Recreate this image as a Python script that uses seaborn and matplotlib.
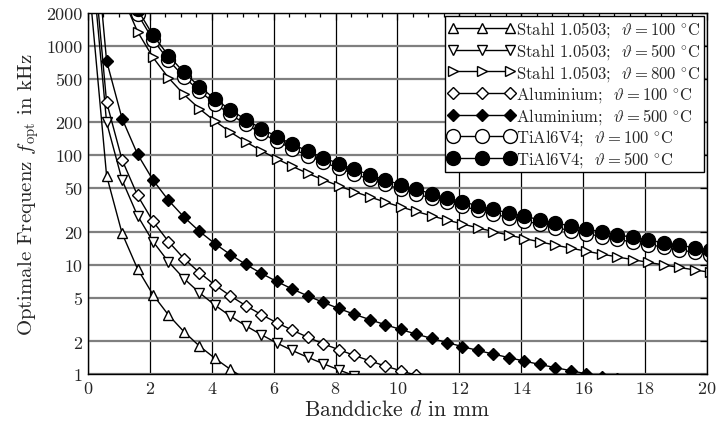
import matplotlib
matplotlib.use("Agg")
import matplotlib.pyplot as plt
import seaborn as sns
from matplotlib.ticker import FixedLocator, FixedFormatter, MultipleLocator, NullLocator

# Banddicke d in mm (marker positions)
D_MM = [0.1, 0.6, 1.1, 1.6, 2.1, 2.6, 3.1, 3.6, 4.1, 4.6,
        5.1, 5.6, 6.1, 6.6, 7.1, 7.6, 8.1, 8.6, 9.1, 9.6,
        10.1, 10.6, 11.1, 11.6, 12.1, 12.6, 13.1, 13.6, 14.1, 14.6,
        15.1, 15.6, 16.1, 16.6, 17.1, 17.6, 18.1, 18.6, 19.1, 19.6, 20.1]

# optimale Frequenz in kHz
STAHL_100 = [2350, 65.3, 19.4, 9.18, 5.33, 3.48, 2.45, 1.81, 1.40, 1.11, 0.90]
STAHL_500 = [7200, 200, 59.5, 28.1, 16.3, 10.65, 7.49, 5.56, 4.28, 3.40,
             2.77, 2.30, 1.93, 1.65, 1.43, 1.25, 1.10, 0.97, 0.87]
STAHL_800 = [345000, 9583, 2851, 1348, 782, 510, 359, 266, 205, 163,
             132.6, 110.0, 92.7, 79.2, 68.4, 59.7, 52.6, 46.6, 41.7, 37.4,
             33.8, 30.7, 28.0, 25.6, 23.6, 21.7, 20.1, 18.65, 17.35, 16.19,
             15.13, 14.18, 13.31, 12.52, 11.80, 11.14, 10.53, 9.97, 9.46, 8.98, 8.54]
ALU_100 = [11000, 306, 90.9, 43.0, 24.9, 16.3, 11.4, 8.49, 6.54, 5.20,
           4.23, 3.51, 2.96, 2.53, 2.18, 1.90, 1.68, 1.49, 1.33, 1.19,
           1.08, 0.98, 0.89]
ALU_500 = [26200, 728, 216.5, 102.3, 59.4, 38.8, 27.3, 20.2, 15.6, 12.4,
           10.07, 8.35, 7.04, 6.01, 5.20, 4.54, 3.99, 3.54, 3.16, 2.84,
           2.57, 2.33, 2.13, 1.95, 1.79, 1.65, 1.53, 1.42, 1.32, 1.23,
           1.15, 1.08, 1.01, 0.95, 0.90]
TIAL_100 = [500000, 13889, 4132, 1953, 1134, 740, 520, 386, 297, 236,
            192.2, 159.4, 134.4, 114.8, 99.2, 86.6, 76.2, 67.6, 60.4, 54.3,
            49.0, 44.5, 40.6, 37.2, 34.2, 31.5, 29.1, 27.0, 25.1, 23.5,
            21.9, 20.5, 19.3, 18.1, 17.1, 16.1, 15.3, 14.5, 13.7, 13.0, 12.4]
TIAL_500 = [550000, 15278, 4545, 2148, 1247, 814, 572, 424, 327, 260,
            211.5, 175.4, 147.8, 126.3, 109.1, 95.2, 83.8, 74.4, 66.4, 59.7,
            53.9, 48.9, 44.6, 40.9, 37.6, 34.6, 32.0, 29.7, 27.7, 25.8,
            24.1, 22.6, 21.2, 20.0, 18.8, 17.8, 16.8, 15.9, 15.1, 14.3, 13.6]

LABELS = [
    r"Stahl 1.0503;  $\vartheta = 100\ {}^{\circ}\mathrm{C}$",
    r"Stahl 1.0503;  $\vartheta = 500\ {}^{\circ}\mathrm{C}$",
    r"Stahl 1.0503;  $\vartheta = 800\ {}^{\circ}\mathrm{C}$",
    r"Aluminium;  $\vartheta = 100\ {}^{\circ}\mathrm{C}$",
    r"Aluminium;  $\vartheta = 500\ {}^{\circ}\mathrm{C}$",
    r"TiAl6V4;  $\vartheta = 100\ {}^{\circ}\mathrm{C}$",
    r"TiAl6V4;  $\vartheta = 500\ {}^{\circ}\mathrm{C}$",
]
Y_TICKS = [1, 2, 5, 10, 20, 50, 100, 200, 500, 1000, 2000]

sns.set_style("white")
plt.rcParams["font.family"] = "serif"
plt.rcParams["font.serif"] = ["cmr10", "DejaVu Serif"]
plt.rcParams["mathtext.fontset"] = "cm"
plt.rcParams["axes.formatter.use_mathtext"] = True

fig = plt.figure(figsize=(7.19, 4.31), dpi=100)
ax = fig.add_axes([0.1224, 0.1292, 0.8609, 0.8388])

styles = [("^", "white", 7.5), ("v", "white", 7.5), (">", "white", 7.5),
          ("D", "white", 6.5), ("D", "black", 6.5),
          ("o", "white", 10), ("o", "black", 10)]
series = [STAHL_100, STAHL_500, STAHL_800, ALU_100, ALU_500, TIAL_100, TIAL_500]

for vals, label, (mk, face, ms) in zip(series, LABELS, styles):
    sns.lineplot(x=D_MM[:len(vals)], y=vals, ax=ax, color="black", linewidth=1.0,
                 marker=mk, markersize=ms, markerfacecolor=face,
                 markeredgecolor="black", markeredgewidth=1.0, label=label)

ax.set_yscale("log")
ax.set_xlim(0, 20)
ax.set_ylim(1, 2000)

ax.xaxis.set_major_locator(MultipleLocator(2))
ax.xaxis.set_minor_locator(MultipleLocator(0.5))
ax.yaxis.set_major_locator(FixedLocator(Y_TICKS))
ax.yaxis.set_major_formatter(FixedFormatter([str(t) for t in Y_TICKS]))
ax.yaxis.set_minor_locator(NullLocator())

ax.grid(True, axis="x", color="black", linewidth=0.9)
ax.grid(True, axis="y", color="#7f7f7f", linewidth=1.6)
ax.set_axisbelow(True)

ax.tick_params(which="both", direction="in", top=True, right=True,
               labelsize=13, width=0.9, color="black")
ax.tick_params(which="major", length=5, pad=4)
ax.tick_params(which="minor", length=3)
for sp in ax.spines.values():
    sp.set_color("black")
    sp.set_linewidth(1.0)

ax.set_xlabel(r"Banddicke $d$ in mm", fontsize=15.5, labelpad=2)
ax.set_ylabel(r"Optimale Frequenz $f_\mathrm{opt}$ in kHz", fontsize=15, labelpad=4)

leg = ax.legend(loc="upper right", numpoints=3, handlelength=4.0, fontsize=12,
                fancybox=False, edgecolor="black", framealpha=1,
                borderaxespad=0.2, borderpad=0.2, labelspacing=0.1,
                handletextpad=0.05)
leg.get_frame().set_linewidth(1.0)

fig.savefig("out.png", dpi=100)
